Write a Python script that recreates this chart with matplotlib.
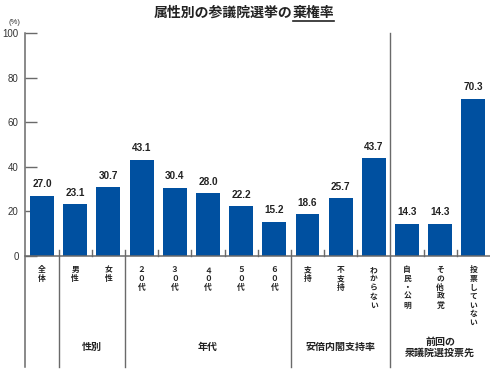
import matplotlib
matplotlib.use("Agg")
import matplotlib.pyplot as plt
import matplotlib.transforms as mtransforms

plt.rcParams['font.family'] = ['Noto Sans CJK JP', 'DejaVu Sans']

# data
categories = ['全体', '男性', '女性', '２０代', '３０代', '４０代', '５０代', '６０代',
              '支持', '不支持', 'わからない', '自民・公明', 'その他政党', '投票していない']
values = [27.0, 23.1, 30.7, 43.1, 30.4, 28.0, 22.2, 15.2, 18.6, 25.7, 43.7, 14.3, 14.3, 70.3]
groups = ['性別', '年代', '安倍内閣支持率', '前回の\n衆議院選投票先']
group_spans = [(1, 2), (3, 7), (8, 10), (11, 13)]

bar_color = '#0050a0'
line_color = '#6a6a6a'

fig = plt.figure(figsize=(4.9, 3.71), dpi=100)
ax = fig.add_axes([0.052, 0.311, 0.948, 0.6])

x = list(range(len(values)))
ax.bar(x, values, width=0.72, color=bar_color, zorder=2)
ax.set_xlim(-0.5, len(values) - 0.5)
ax.set_ylim(0, 100)

# value labels
for xi, v in zip(x, values):
    ax.text(xi, v + 3.0, f'{v:.1f}', ha='center', va='bottom', fontsize=7.2,
            fontweight='bold', color='#222222', family=['Liberation Sans', 'DejaVu Sans'])

for s in ax.spines.values():
    s.set_visible(False)
ax.set_xticks([])
ax.set_yticks([0, 20, 40, 60, 80, 100])
ax.set_yticklabels(['0', '20', '40', '60', '80', '100'], family=['Liberation Sans', 'DejaVu Sans'],
                   fontsize=7, color='#333333')
ax.tick_params(axis='y', direction='in', length=8.5, width=1, color=line_color, pad=5)

trans = mtransforms.blended_transform_factory(ax.transData, ax.transAxes)
bottom = -0.5

# axis lines
ax.plot([-0.5, -0.5], [bottom, 1.0], transform=trans, color=line_color, lw=1.1, clip_on=False)
ax.plot([-0.5, len(values) - 0.5], [0, 0], transform=trans, color=line_color, lw=1.1, clip_on=False)

# group separators and small ticks
seps = [0.5, 2.5, 7.5, 10.5]
for b in [i + 0.5 for i in range(len(values) - 1)]:
    if b in seps:
        top = 1.0 if b == 10.5 else 0.025
        ax.plot([b, b], [bottom, top], transform=trans, color=line_color, lw=1.0, clip_on=False)
    else:
        ax.plot([b, b], [0, 0.025], transform=trans, color=line_color, lw=1.0, clip_on=False)

# category labels (vertical, stacked)
for xi, c in zip(x, categories):
    ax.text(xi, -0.043, '\n'.join(c), transform=trans, ha='center', va='top',
            fontsize=5.6, fontweight='bold', linespacing=0.98, color='#222222')

# group labels
for g, (a, b) in zip(groups, group_spans):
    ax.text((a + b) / 2, -0.41, g, transform=trans, ha='center', va='center',
            fontsize=7.2, fontweight='bold', linespacing=1.1, color='#222222')

fig.text(14 / 490, 1 - 22 / 371, '(%)', fontsize=5.5, ha='center', va='center', color='#333333',
         family=['Liberation Sans', 'DejaVu Sans'])

# title with underlined part
t1 = fig.text(0.5, 1 - 13 / 371, '属性別の参議院選挙の', fontsize=10, fontweight='bold',
              ha='right', va='center', color='#222222')
t2 = fig.text(0.5, 1 - 13 / 371, '棄権率', fontsize=10, fontweight='bold',
              ha='left', va='center', color='#222222')
fig.canvas.draw()
r = fig.canvas.get_renderer()
w1 = t1.get_window_extent(r).width
w2 = t2.get_window_extent(r).width
W = fig.bbox.width
shift = (w1 - w2) / 2 / W + (244 - 245) / 490
t1.set_x(0.5 + shift)
t2.set_x(0.5 + shift)
x0 = 0.5 + shift
x1 = x0 + w2 / W
fig.add_artist(plt.Line2D([x0, x1], [1 - 20.5 / 371] * 2, color='#222222', lw=1.2))

fig.savefig('out.png', dpi=100)
